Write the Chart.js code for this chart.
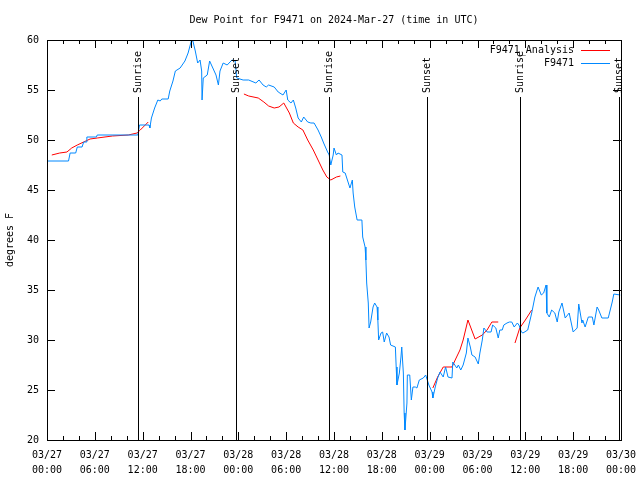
<!DOCTYPE html>
<html>
<head>
<meta charset="utf-8">
<script src="https://cdn.jsdelivr.net/npm/chart.js@4/dist/chart.umd.min.js"></script>
<style>
html, body { margin: 0; padding: 0; background: #fff; }
#wrap { width: 640px; height: 480px; }
</style>
</head>
<body>
<div id="wrap"><canvas id="dewChart" width="640" height="480"></canvas></div>
<script>
// --- Data (x = hours since 2024-03-27 00:00 UTC) ---
const stationHours = [0.0, 2.7, 2.9, 3.6, 3.8, 4.4, 4.6, 4.9, 5.0, 6.2, 6.3, 11.4, 11.6, 12.8, 12.9, 13.1, 13.5, 13.9, 14.2, 14.4,
    15.2, 15.4, 15.8, 16.1, 16.7, 17.3, 17.7, 18.1, 18.3, 18.6, 18.9, 19.2, 19.4, 19.45, 19.6, 20.1, 20.4, 20.8, 21.2, 21.5,
    21.7, 22.1, 22.6, 23.2, 23.6, 23.8, 24.6, 25.3, 26.2, 26.6, 27.1, 27.5, 27.8, 28.5, 29.0, 29.6, 30.0, 30.2, 30.6, 30.9,
    31.2, 31.5, 31.9, 32.2, 32.7, 33.1, 33.5, 34.0, 34.4, 34.7, 35.2, 35.4, 35.6, 35.9, 36.0, 36.3, 36.5, 37.0, 37.1, 37.4,
    37.8, 38.0, 38.3, 38.4, 38.6, 38.9, 39.5, 39.6, 39.9, 40.0, 40.1, 40.3, 40.4, 40.6, 40.9, 41.1, 41.4, 41.5, 41.6, 41.9,
    42.1, 42.3, 42.6, 42.9, 43.1, 43.7, 43.8, 43.9, 44.2, 44.4, 44.5, 44.7, 44.8, 44.9, 45.15, 45.2, 45.5, 45.7, 45.9, 46.2,
    46.4, 46.7, 47.2, 47.5, 47.7, 47.9, 48.3, 48.4, 48.7, 49.0, 49.3, 49.7, 50.0, 50.3, 50.8, 50.9, 51.4, 51.6, 51.9, 52.2,
    52.6, 52.8, 53.1, 53.3, 53.7, 54.1, 54.3, 54.6, 54.8, 55.2, 55.7, 55.9, 56.3, 56.6, 56.8, 57.1, 57.3, 57.7, 58.0, 58.3,
    58.6, 59.0, 59.2, 59.5, 59.7, 60.3, 60.8, 61.2, 61.6, 62.0, 62.3, 62.6, 62.7, 63.0, 63.3, 63.7, 64.0, 64.2, 64.6, 65.0,
    65.5, 66.0, 66.5, 66.7, 67.1, 67.2, 67.5, 67.9, 68.4, 68.6, 69.0, 69.2, 69.6, 70.4, 70.9, 71.1, 71.9];
const stationDew = [47.9, 47.9, 48.7, 48.7, 49.3, 49.3, 49.8, 49.8, 50.3, 50.3, 50.5, 50.5, 51.5, 51.5, 51.2, 52.2, 53.2, 54.0, 53.9, 54.1,
    54.1, 54.9, 55.9, 56.9, 57.2, 57.9, 58.7, 59.9, 59.9, 58.9, 57.7, 58.0, 56.9, 54.0, 56.2, 56.5, 57.9, 57.2, 56.5, 55.5,
    56.9, 57.7, 57.5, 58.0, 57.9, 56.2, 56.0, 56.0, 55.7, 56.0, 55.5, 55.3, 55.5, 55.3, 54.8, 54.5, 55.0, 54.0, 53.7, 54.0,
    53.2, 52.2, 51.8, 52.3, 51.8, 51.7, 51.7, 51.0, 50.3, 49.7, 48.8, 48.5, 47.5, 48.5, 49.2, 48.5, 48.7, 48.5, 46.8, 46.7,
    45.7, 45.2, 46.0, 44.7, 43.3, 42.0, 42.0, 40.3, 39.3, 38.0, 35.7, 33.7, 31.2, 31.8, 33.3, 33.7, 33.3, 32.0, 30.0, 30.7,
    30.8, 29.8, 30.7, 30.3, 29.5, 29.3, 27.3, 25.5, 26.7, 28.3, 29.3, 26.7, 22.7, 21.0, 23.7, 26.5, 26.5, 24.0, 25.3, 25.3,
    25.2, 26.0, 26.2, 26.5, 26.0, 25.5, 24.8, 24.2, 25.3, 26.2, 26.8, 26.3, 27.3, 26.3, 26.2, 27.8, 27.2, 27.5, 27.0, 27.5,
    28.7, 30.2, 29.3, 28.5, 28.3, 27.6, 28.7, 30.0, 31.2, 30.8, 30.8, 31.5, 31.2, 30.2, 31.0, 31.0, 31.5, 31.7, 31.8, 31.8,
    31.3, 31.7, 31.5, 30.8, 30.7, 31.0, 32.7, 34.3, 35.3, 34.5, 34.7, 35.5, 32.7, 32.3, 33.0, 32.7, 31.8, 32.8, 33.7, 32.2,
    32.7, 30.8, 31.2, 33.6, 31.7, 32.0, 31.3, 32.3, 32.3, 31.5, 33.3, 33.0, 32.2, 32.2, 33.8, 34.6, 34.5];

// analysis series: null marks a gap
const analysisHours = [0.6, 1.6, 2.5, 3.1, 3.8, 4.6, 5.4, 6.3, 8.2, 10.2, 11.3, 11.7, 12.7, 18.0,
    24.7, 25.3, 26.5, 27.2, 27.8, 28.5, 29.1, 29.7, 30.4, 30.9, 31.5, 32.1, 32.7, 33.4, 34.0, 34.6, 35.1, 35.6, 36.3, 36.8, 42.0,
    48.4, 49.0, 49.7, 50.8, 51.2, 51.8, 52.2, 52.8, 53.7, 54.6, 55.2, 55.8, 56.6, 57.6,
    58.7, 59.3, 60.0, 60.8];
const analysisDew = [48.5, 48.7, 48.8, 49.2, 49.5, 49.8, 50.1, 50.2, 50.4, 50.5, 50.7, 51.0, 51.8, null,
    54.6, 54.4, 54.2, 53.8, 53.4, 53.2, 53.3, 53.7, 52.7, 51.7, 51.3, 51.0, 50.0, 49.0, 48.0, 47.0, 46.3, 46.0, 46.3, 46.4, null,
    25.2, 26.3, 27.3, 27.3, 28.0, 29.0, 30.0, 32.0, 30.1, 30.5, 31.0, 31.8, 31.8, null,
    29.7, 31.2, 32.0, 33.0];

const sunEventHours = [11.4, 23.7, 35.4, 47.7, 59.35, 71.8];
const sunEventLabels = ['Sunrise', 'Sunset', 'Sunrise', 'Sunset', 'Sunrise', 'Sunset'];

const xTickDays = ['03/27', '03/27', '03/27', '03/27', '03/28', '03/28', '03/28', '03/28', '03/29', '03/29', '03/29', '03/29', '03/30'];
const xTickTimes = ['00:00', '06:00', '12:00', '18:00', '00:00', '06:00', '12:00', '18:00', '00:00', '06:00', '12:00', '18:00', '00:00'];

const FONT = '10px "DejaVu Sans Mono", monospace';

// --- Frame, inward ticks, sun lines, legend, titles ---
const gnuplotLook = {
    id: 'gnuplotLook',
    afterDatasetsDraw(chart) {
        const c = chart.ctx;
        const a = chart.chartArea;
        const xs = chart.scales.x;
        const ys = chart.scales.y;
        c.save();
        c.strokeStyle = '#000';
        c.lineWidth = 1;

        // sunrise / sunset markers
        c.fillStyle = '#000';
        c.font = FONT;
        sunEventHours.forEach((h, i) => {
            const x = Math.round(xs.getPixelForValue(h)) + 0.5;
            c.beginPath();
            c.moveTo(x, a.bottom);
            c.lineTo(x, a.top + 57);
            c.stroke();
            c.save();
            c.translate(x, a.top + 53);
            c.rotate(-Math.PI / 2);
            c.textAlign = 'left';
            c.textBaseline = 'middle';
            c.fillText(sunEventLabels[i], 0, 0);
            c.restore();
        });

        // x ticks (major every 6h, minor every 2h), bottom and top
        for (let h = 0; h <= 72; h += 2) {
            const x = Math.round(xs.getPixelForValue(h)) + 0.5;
            const len = h % 6 === 0 ? 8 : 4;
            c.beginPath();
            c.moveTo(x, a.bottom); c.lineTo(x, a.bottom - len);
            c.moveTo(x, a.top); c.lineTo(x, a.top + len);
            c.stroke();
        }
        // y ticks, left and right
        for (let v = 20; v <= 60; v += 5) {
            const y = Math.round(ys.getPixelForValue(v)) + 0.5;
            c.beginPath();
            c.moveTo(a.left, y); c.lineTo(a.left + 8, y);
            c.moveTo(a.right, y); c.lineTo(a.right - 8, y);
            c.stroke();
        }
        // frame
        c.strokeRect(Math.round(a.left) + 0.5, Math.round(a.top) + 0.5, Math.round(a.right - a.left), Math.round(a.bottom - a.top));

        // legend
        const legend = [['F9471_Analysis', '#ff0000'], ['F9471', '#0088ff']];
        c.textAlign = 'right';
        c.textBaseline = 'middle';
        legend.forEach((item, i) => {
            const y = 50 + i * 13;
            c.fillStyle = '#000';
            c.fillText(item[0], 574, y);
            c.strokeStyle = item[1];
            c.beginPath();
            c.moveTo(581, y + 0.5); c.lineTo(610, y + 0.5);
            c.stroke();
        });

        // title
        c.fillStyle = '#000';
        c.textAlign = 'center';
        c.fillText('Dew Point for F9471 on 2024-Mar-27 (time in UTC)', (a.left + a.right) / 2, 20);

        // y axis title
        c.save();
        c.translate(10, (a.top + a.bottom) / 2);
        c.rotate(-Math.PI / 2);
        c.textAlign = 'center';
        c.fillText('degrees F', 0, 0);
        c.restore();

        c.restore();
    }
};

const ctx = document.getElementById('dewChart').getContext('2d');
const dewChart = new Chart(ctx, {
    type: 'line',
    data: {
        datasets: [
            {
                label: 'F9471_Analysis',
                data: analysisHours.map((h, i) => ({ x: h, y: analysisDew[i] })),
                borderColor: '#ff0000',
                borderWidth: 1,
                pointRadius: 0,
                tension: 0,
                spanGaps: false,
                order: 1
            },
            {
                label: 'F9471',
                data: stationHours.map((h, i) => ({ x: h, y: stationDew[i] })),
                borderColor: '#0088ff',
                borderWidth: 1,
                pointRadius: 0,
                tension: 0,
                order: 0
            }
        ]
    },
    options: {
        responsive: false,
        animation: false,
        layout: { padding: { top: 40, right: 19, left: 0, bottom: 0 } },
        plugins: {
            legend: { display: false },
            tooltip: { enabled: false }
        },
        scales: {
            x: {
                type: 'linear',
                min: 0,
                max: 72,
                grid: { display: false, drawTicks: false },
                border: { display: false },
                afterFit: (scale) => {
                    scale.height = 40;
                    scale.paddingLeft = 0;
                    scale.paddingRight = 0;
                },
                ticks: {
                    stepSize: 6,
                    autoSkip: false,
                    maxRotation: 0,
                    padding: 8,
                    color: '#000',
                    font: { family: '"DejaVu Sans Mono", monospace', size: 10, lineHeight: 1.5 },
                    callback: (v) => {
                        const i = Math.round(v / 6);
                        return [xTickDays[i], xTickTimes[i]];
                    }
                }
            },
            y: {
                min: 20,
                max: 60,
                grid: { display: false, drawTicks: false },
                border: { display: false },
                afterFit: (scale) => {
                    scale.width = 47;
                    scale.paddingTop = 0;
                    scale.paddingBottom = 0;
                },
                ticks: {
                    stepSize: 5,
                    padding: 8,
                    color: '#000',
                    font: { family: '"DejaVu Sans Mono", monospace', size: 10 }
                }
            }
        }
    },
    plugins: [gnuplotLook]
});
</script>
</body>
</html>
